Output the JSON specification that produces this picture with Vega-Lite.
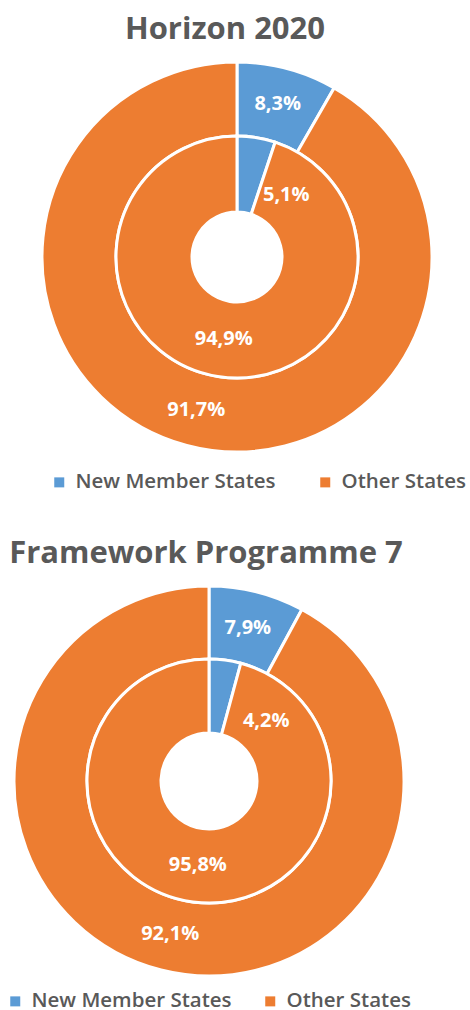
{
  "$schema": "https://vega.github.io/schema/vega-lite/v6.json",
  "padding": {"top": 14, "left": 0, "right": 0, "bottom": 0},
  "background": "white",
  "spacing": 45,
  "config": {
    "view": {"stroke": null},
    "font": "Open Sans",
    "title": {"fontSize": 31, "fontWeight": "bold", "color": "#595959", "anchor": "middle", "font": "Open Sans", "offset": 10},
    "legend": {
      "orient": "none", "direction": "horizontal", "title": null, "padding": 0,
      "labelFontSize": 20.5, "labelColor": "#595959", "labelFont": "Open Sans", "labelFontWeight": 600, "labelLimit": 0, "labelOffset": 6,
      "symbolType": "square", "symbolSize": 100, "symbolStrokeWidth": 0
    }
  },
  "datasets": {
    "d": [
      {"programme": "Horizon 2020", "ring": "outer", "category": "New Member States", "value": 8.3, "label": "8,3%"},
      {"programme": "Horizon 2020", "ring": "outer", "category": "Other States", "value": 91.7, "label": "91,7%"},
      {"programme": "Horizon 2020", "ring": "inner", "category": "New Member States", "value": 5.1, "label": "5,1%"},
      {"programme": "Horizon 2020", "ring": "inner", "category": "Other States", "value": 94.9, "label": "94,9%"},
      {"programme": "Framework Programme 7", "ring": "outer", "category": "New Member States", "value": 7.9, "label": "7,9%"},
      {"programme": "Framework Programme 7", "ring": "outer", "category": "Other States", "value": 92.1, "label": "92,1%"},
      {"programme": "Framework Programme 7", "ring": "inner", "category": "New Member States", "value": 4.2, "label": "4,2%"},
      {"programme": "Framework Programme 7", "ring": "inner", "category": "Other States", "value": 95.8, "label": "95,8%"}
    ]
  },
  "resolve": {"scale": {"color": "independent"}},
  "vconcat": [
    {
      "width": 474,
      "height": 390,
      "title": {"text": "Horizon 2020", "dx": -12},
      "data": {"name": "d"},
      "transform": [{"filter": "datum.programme === 'Horizon 2020'"}],
      "encoding": {
        "theta": {"field": "value", "type": "quantitative", "stack": true, "scale": {"domain": [0, 100]}},
        "color": {"field": "category", "type": "nominal", "scale": {"domain": ["New Member States", "Other States"], "range": ["#5B9BD5", "#ED7D31"]}, "legend": {"legendX": 49, "legendY": 410, "columnPadding": 39}},
        "order": {"field": "category", "type": "nominal", "sort": "ascending"}
      },
      "layer": [
        {"transform": [{"filter": "datum.ring === 'outer'"}], "mark": {"type": "arc", "outerRadius": 195, "innerRadius": 121, "stroke": "white", "strokeWidth": 3}},
        {"transform": [{"filter": "datum.ring === 'inner'"}], "mark": {"type": "arc", "outerRadius": 121, "innerRadius": 45, "stroke": "white", "strokeWidth": 3}},
        {"transform": [{"filter": "datum.ring === 'outer'"}], "mark": {"type": "text", "radius": 158, "fontSize": 20, "fontWeight": "bold"},
          "encoding": {"color": {"value": "white"}, "detail": {"field": "category"}, "text": {"field": "label"}}},
        {"transform": [{"filter": "datum.ring === 'inner'"}], "mark": {"type": "text", "radius": 83, "fontSize": 20, "fontWeight": "bold"},
          "encoding": {"color": {"value": "white"}, "detail": {"field": "category"}, "text": {"condition": {"test": "datum.category === 'Other States'", "field": "label"}, "value": ""}}},
        {"transform": [{"filter": "datum.ring === 'inner'"}], "mark": {"type": "text", "radius": 83, "fontSize": 20, "fontWeight": "bold", "dx": 36, "dy": 20},
          "encoding": {"color": {"value": "white"}, "detail": {"field": "category"}, "text": {"condition": {"test": "datum.category === 'New Member States'", "field": "label"}, "value": ""}}}
      ]
    },
    {
      "width": 418,
      "height": 390,
      "title": {"text": "Framework Programme 7", "dx": -3},
      "data": {"name": "d"},
      "transform": [{"filter": "datum.programme === 'Framework Programme 7'"}],
      "encoding": {
        "theta": {"field": "value", "type": "quantitative", "stack": true, "scale": {"domain": [0, 100]}},
        "color": {"field": "category", "type": "nominal", "scale": {"domain": ["New Member States", "Other States"], "range": ["#5B9BD5", "#ED7D31"]}, "legend": {"legendX": 5, "legendY": 405, "columnPadding": 28}},
        "order": {"field": "category", "type": "nominal", "sort": "ascending"}
      },
      "layer": [
        {"transform": [{"filter": "datum.ring === 'outer'"}], "mark": {"type": "arc", "outerRadius": 195, "innerRadius": 122, "stroke": "white", "strokeWidth": 3}},
        {"transform": [{"filter": "datum.ring === 'inner'"}], "mark": {"type": "arc", "outerRadius": 122, "innerRadius": 48, "stroke": "white", "strokeWidth": 3}},
        {"transform": [{"filter": "datum.ring === 'outer'"}], "mark": {"type": "text", "radius": 158, "fontSize": 20, "fontWeight": "bold"},
          "encoding": {"color": {"value": "white"}, "detail": {"field": "category"}, "text": {"field": "label"}}},
        {"transform": [{"filter": "datum.ring === 'inner'"}], "mark": {"type": "text", "radius": 85, "fontSize": 20, "fontWeight": "bold"},
          "encoding": {"color": {"value": "white"}, "detail": {"field": "category"}, "text": {"condition": {"test": "datum.category === 'Other States'", "field": "label"}, "value": ""}}},
        {"transform": [{"filter": "datum.ring === 'inner'"}], "mark": {"type": "text", "radius": 85, "fontSize": 20, "fontWeight": "bold", "dx": 46, "dy": 24},
          "encoding": {"color": {"value": "white"}, "detail": {"field": "category"}, "text": {"condition": {"test": "datum.category === 'New Member States'", "field": "label"}, "value": ""}}}
      ]
    }
  ]
}
